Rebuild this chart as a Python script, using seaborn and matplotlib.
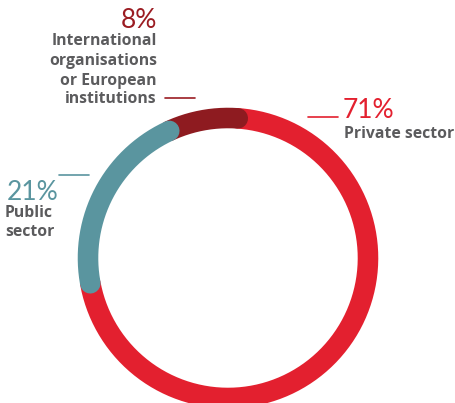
import numpy as np
import matplotlib
matplotlib.use("Agg")
import matplotlib.pyplot as plt
import seaborn as sns

categories = ["Private sector", "Public sector", "International organisations\nor European institutions"]
values = [71, 21, 8]
pct_labels = ["71%", "21%", "8%"]
colors = ["#E3202F", "#5A959F", "#8E1B20"]

sns.set_theme(style="white")
plt.rcParams['font.family'] = ['Lato', 'DejaVu Sans']

fig = plt.figure(figsize=(4.55, 4.03), dpi=100)
ax = fig.add_axes([0, 0, 1, 1])
ax.set_xlim(0, 455)
ax.set_ylim(403, 0)
ax.axis("off")

cx, cy, r = 228, 258, 140
lw = 14.8
start = 86.0  # degrees, going counter-clockwise

order = [2, 1, 0]
arcs = {}
a = start
for i in order:
    span = values[i] / sum(values) * 360
    arcs[i] = (a, a + span)
    a += span

def draw_arc(i, z):
    a0, a1 = arcs[i]
    th = np.radians(np.linspace(a0, a1, 300))
    x = cx + r * np.cos(th)
    y = cy - r * np.sin(th)
    sns.lineplot(x=x, y=y, ax=ax, color=colors[i], linewidth=lw, sort=False,
                 estimator=None, zorder=z)
    ax.lines[-1].set_solid_capstyle("round")

draw_arc(0, 1)
draw_arc(2, 2)
draw_arc(1, 3)

gray = "#5B5B5D"
lab = dict(fontsize=11.3, color=gray, fontweight="bold", family=["Open Sans", "DejaVu Sans"])
pct = dict(fontsize=19, fontweight="normal")

# 8% label
ax.text(157, 28, pct_labels[2], ha="right", va="baseline", color="#9B1C22", **pct)
ax.text(157, 45, "International", ha="right", va="baseline", **lab)
ax.text(157, 65, "organisations", ha="right", va="baseline", **lab)
ax.text(157, 85, "or European", ha="right", va="baseline", **lab)
ax.text(157, 103, "institutions", ha="right", va="baseline", **lab)
ax.plot([165, 195], [98, 98], color="#9B1C22", lw=1.2)

# 71%
ax.text(343, 118, pct_labels[0], ha="left", va="baseline", color=colors[0], **pct)
ax.text(344, 138, categories[0], ha="left", va="baseline", **lab)
ax.plot([308, 338], [117, 117], color=colors[0], lw=1.2)

# 21%
ax.text(7, 200, pct_labels[1], ha="left", va="baseline", color=colors[1], **pct)
ax.text(5, 217, "Public", ha="left", va="baseline", **lab)
ax.text(5, 236, "sector", ha="left", va="baseline", **lab)
ax.plot([59, 89], [175, 175], color=colors[1], lw=1.2)

fig.savefig("out.png", dpi=100)
